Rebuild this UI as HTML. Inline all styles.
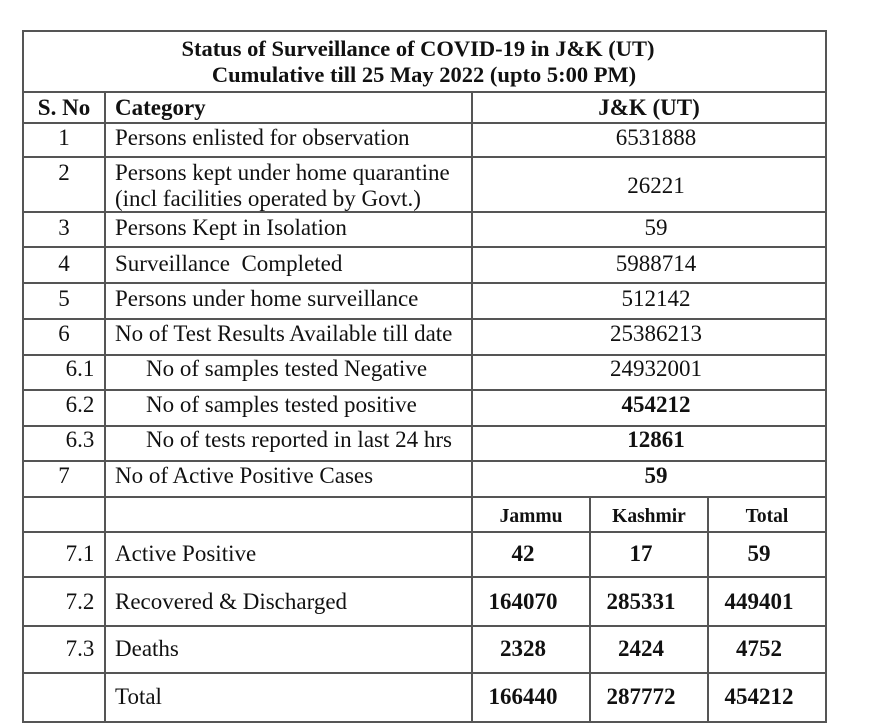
<!DOCTYPE html>
<html><head><meta charset="utf-8"><style>
html,body{margin:0;padding:0;background:#fff;}
svg{display:block;}
text{font-family:"Liberation Serif",serif;fill:#111;}
.b{font-weight:bold;}
</style></head><body>
<svg width="874" height="724" viewBox="0 0 874 724">
<g stroke="#555" stroke-width="2">
<rect x="23" y="31" width="803" height="691" fill="none"/>
<line x1="23" y1="92" x2="826" y2="92"/>
<line x1="23" y1="123" x2="826" y2="123"/>
<line x1="23" y1="157" x2="826" y2="157"/>
<line x1="23" y1="212" x2="826" y2="212"/>
<line x1="23" y1="247" x2="826" y2="247"/>
<line x1="23" y1="283" x2="826" y2="283"/>
<line x1="23" y1="319" x2="826" y2="319"/>
<line x1="23" y1="355" x2="826" y2="355"/>
<line x1="23" y1="390" x2="826" y2="390"/>
<line x1="23" y1="426" x2="826" y2="426"/>
<line x1="23" y1="461" x2="826" y2="461"/>
<line x1="23" y1="497" x2="826" y2="497"/>
<line x1="23" y1="532" x2="826" y2="532"/>
<line x1="23" y1="577" x2="826" y2="577"/>
<line x1="23" y1="626" x2="826" y2="626"/>
<line x1="23" y1="673" x2="826" y2="673"/>
<line x1="105" y1="92" x2="105" y2="722"/>
<line x1="472" y1="92" x2="472" y2="722"/>
<line x1="590" y1="497" x2="590" y2="722"/>
<line x1="708" y1="497" x2="708" y2="722"/>
</g>
<g>
<text class="b" x="418" y="56" text-anchor="middle" font-size="22.5">Status of Surveillance of COVID-19 in J&amp;K (UT)</text>
<text class="b" x="424" y="82" text-anchor="middle" font-size="22.5">Cumulative till 25 May 2022 (upto 5:00 PM)</text>
</g>
<g font-size="23">
<text class="b" x="64" y="115" text-anchor="middle">S. No</text>
<text class="b" x="115" y="115">Category</text>
<text class="b" x="649" y="115" text-anchor="middle">J&amp;K (UT)</text>
</g>
<g font-size="23">
<text x="64" y="145" text-anchor="middle">1</text>
<text x="64" y="180" text-anchor="middle">2</text>
<text x="64" y="235" text-anchor="middle">3</text>
<text x="64" y="271" text-anchor="middle">4</text>
<text x="64" y="306" text-anchor="middle">5</text>
<text x="64" y="341" text-anchor="middle">6</text>
<text x="80" y="376" text-anchor="middle">6.1</text>
<text x="80" y="412" text-anchor="middle">6.2</text>
<text x="80" y="447" text-anchor="middle">6.3</text>
<text x="64" y="483" text-anchor="middle">7</text>
<text x="80" y="561" text-anchor="middle">7.1</text>
<text x="80" y="609" text-anchor="middle">7.2</text>
<text x="80" y="656" text-anchor="middle">7.3</text>
</g>
<g font-size="23">
<text x="115" y="145">Persons enlisted for observation</text>
<text x="115" y="180">Persons kept under home quarantine</text>
<text x="115" y="206">(incl facilities operated by Govt.)</text>
<text x="115" y="235">Persons Kept in Isolation</text>
<text x="115" y="271" xml:space="preserve">Surveillance  Completed</text>
<text x="115" y="306">Persons under home surveillance</text>
<text x="115" y="341">No of Test Results Available till date</text>
<text x="146" y="376">No of samples tested Negative</text>
<text x="146" y="412">No of samples tested positive</text>
<text x="146" y="447">No of tests reported in last 24 hrs</text>
<text x="115" y="483">No of Active Positive Cases</text>
<text x="115" y="561">Active Positive</text>
<text x="115" y="609">Recovered &amp; Discharged</text>
<text x="115" y="656">Deaths</text>
<text x="115" y="704">Total</text>
</g>
<g font-size="23" text-anchor="middle">
<text x="656" y="145">6531888</text>
<text x="656" y="193">26221</text>
<text x="656" y="235">59</text>
<text x="656" y="271">5988714</text>
<text x="656" y="306">512142</text>
<text x="656" y="341">25386213</text>
<text x="656" y="376">24932001</text>
<text class="b" x="656" y="412">454212</text>
<text class="b" x="656" y="447">12861</text>
<text class="b" x="656" y="483">59</text>
</g>
<g class="b" font-size="19.5" text-anchor="middle">
<text x="531" y="522">Jammu</text>
<text x="649" y="522">Kashmir</text>
<text x="767" y="522">Total</text>
</g>
<g class="b" font-size="23" text-anchor="middle">
<text x="523" y="561">42</text><text x="641" y="561">17</text><text x="759" y="561">59</text>
<text x="523" y="609">164070</text><text x="641" y="609">285331</text><text x="759" y="609">449401</text>
<text x="523" y="656">2328</text><text x="641" y="656">2424</text><text x="759" y="656">4752</text>
<text x="523" y="704">166440</text><text x="641" y="704">287772</text><text x="759" y="704">454212</text>
</g>
</svg>
</body></html>
